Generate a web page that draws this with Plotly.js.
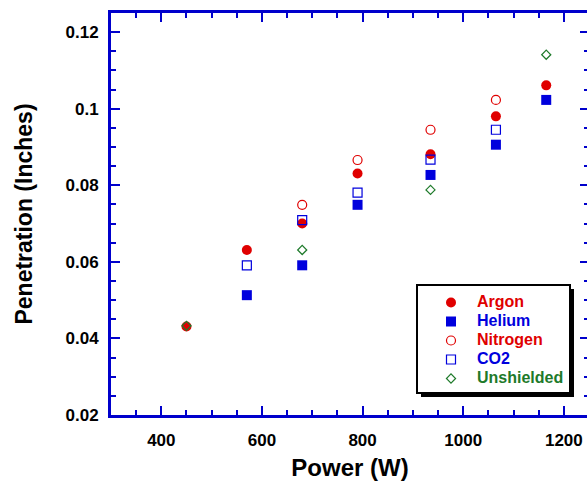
<!DOCTYPE html>
<html><head><meta charset="utf-8">
<script src="https://cdn.plot.ly/plotly-3.0.1.min.js"></script>
<style>html,body{margin:0;padding:0;overflow:hidden;background:#fff}</style>
</head><body><div id="chart"></div>
<script>
const power = [450, 570, 680, 790, 935, 1065, 1165];
const argon = [0.0431, 0.0631, 0.0700, 0.0831, 0.0881, 0.0980, 0.1061];
const heliumX = [570, 680, 790, 935, 1065, 1165];
const helium = [0.0513, 0.0591, 0.0749, 0.0827, 0.0906, 0.1023];
const nitrogenX = [680, 790, 935, 1065];
const nitrogen = [0.0749, 0.0866, 0.0945, 0.1023];
const co2X = [570, 680, 790, 935, 1065];
const co2 = [0.0591, 0.0709, 0.0781, 0.0867, 0.0945];
const unshieldedX = [450, 680, 935, 1165];
const unshielded = [0.0433, 0.0631, 0.0788, 0.1141];

const RED = '#e00000', BLUE = '#0000dd', GREEN = '#1e7a2a', AX = '#0000cc';
const FONT = 'Liberation Sans, Arial, sans-serif';
const lbl = (t, c) => `<span style="font-size:16px;color:${c}"><b>${t}</b></span>`;

const traces = [
  {x: power, y: argon, name: lbl('Argon', RED), mode: 'markers',
   marker: {symbol: 'circle', size: 10, color: RED}},
  {x: heliumX, y: helium, name: lbl('Helium', BLUE), mode: 'markers',
   marker: {symbol: 'square', size: 10, color: BLUE}},
  {x: nitrogenX, y: nitrogen, name: lbl('Nitrogen', RED), mode: 'markers',
   marker: {symbol: 'circle-open', size: 9, color: RED, line: {width: 1.2}}},
  {x: co2X, y: co2, name: lbl('CO2', BLUE), mode: 'markers',
   marker: {symbol: 'square-open', size: 9, color: BLUE, line: {width: 1.2}}},
  {x: unshieldedX, y: unshielded, name: lbl('Unshielded', GREEN), mode: 'markers',
   marker: {symbol: 'diamond-open', size: 7, color: GREEN, line: {width: 1.2}}}
];

const W = 595, H = 481;
const mL = 111, mR = 6, mT = 13, mB = 66;
const pw = W - mL - mR, ph = H - mT - mB;
const px = v => (v - mL) / pw;
const py = v => (H - mB - v) / ph;

const layout = {
  width: W, height: H,
  margin: {l: mL, r: mR, t: mT, b: mB, pad: 0},
  paper_bgcolor: '#fff', plot_bgcolor: '#fff',
  font: {family: FONT, color: '#000'},
  showlegend: true,
  legend: {x: px(425), y: py(288), xanchor: 'left', yanchor: 'top',
    bgcolor: 'rgba(0,0,0,0)', borderwidth: 0,
    font: {family: FONT, size: 12}, tracegroupgap: 0, itemwidth: 42},
  xaxis: {
    range: [300, 1250], dtick: 200, tick0: 400,
    showgrid: false, zeroline: false,
    showline: true, linecolor: AX, linewidth: 3, mirror: 'ticks',
    ticks: 'inside', ticklen: 9, tickwidth: 2, tickcolor: AX,
    minor: {dtick: 50, ticks: 'inside', ticklen: 5, tickwidth: 2, tickcolor: AX, showgrid: false},
    ticklabelstandoff: 8,
    tickfont: {family: FONT, size: 17, color: '#000', weight: 'bold'},
    title: {text: '<b>Power (W)</b>', font: {family: FONT, size: 24, color: '#000'}, standoff: 11}
  },
  yaxis: {
    range: [0.02, 0.125], dtick: 0.02, tick0: 0.02,
    showgrid: false, zeroline: false,
    showline: true, linecolor: AX, linewidth: 3, mirror: 'ticks',
    ticks: 'inside', ticklen: 9, tickwidth: 2, tickcolor: AX,
    minor: {dtick: 0.005, ticks: 'inside', ticklen: 5, tickwidth: 2, tickcolor: AX, showgrid: false},
    ticklabelstandoff: 6,
    tickfont: {family: FONT, size: 17, color: '#000', weight: 'bold'},
    title: {text: '<b>Penetration (Inches)</b>', font: {family: FONT, size: 23, color: '#000'}, standoff: 27}
  },
  shapes: [
    {type: 'rect', xref: 'paper', yref: 'paper', layer: 'above',
     x0: px(421), x1: px(574), y0: py(397), y1: py(289),
     fillcolor: '#000', line: {width: 0}},
    {type: 'rect', xref: 'paper', yref: 'paper', layer: 'above',
     x0: px(417), x1: px(570), y0: py(393), y1: py(285),
     fillcolor: '#fff', line: {color: '#000', width: 2}}
  ]
};

Plotly.newPlot('chart', traces, layout, {displayModeBar: false});
</script></body></html>
